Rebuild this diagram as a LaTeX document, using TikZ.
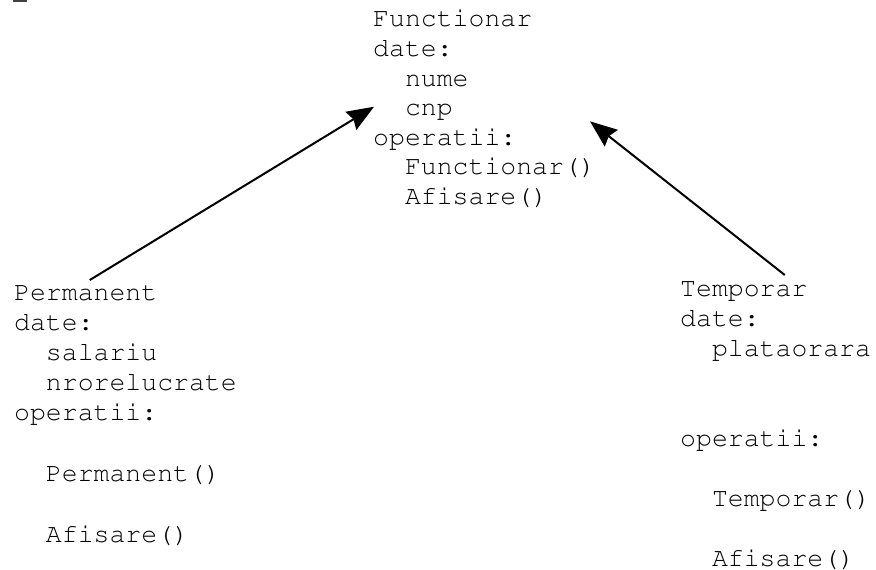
\documentclass[tikz,border=0pt]{standalone}
\usepackage[T1]{fontenc}
\usetikzlibrary{arrows.meta}
% Courier-style typewriter face for the class listings
\newcommand\listfont{\fontencoding{T1}\fontfamily{pcr}\fontsize{26.5}{30}\selectfont}
\newcommand\ind{\phantom{xx}}
\begin{document}
\begin{tikzpicture}[x=1pt,y=-1pt,
  txt/.style={font=\listfont, anchor=base west, inner sep=0pt, text=black},
  inherit/.style={line width=2pt, draw=black,
    -{Stealth[length=27pt,width=21pt,inset=3pt]}}]
\useasboundingbox (0,0) rectangle (876,570);

% small mark in the top-left corner
\draw[line width=1.6pt, black!75] (13,1) -- (27,1);

% base class
\node[txt] (f0) at (373,27)   {Functionar};
\node[txt] (f1) at (373,56.5) {date:};
\node[txt] (f2) at (373,86)   {\ind nume};
\node[txt] (f3) at (373,115.5){\ind cnp};
\node[txt] (f4) at (373,145)  {operatii:};
\node[txt] (f5) at (373,174.5){\ind Functionar()};
\node[txt] (f6) at (373,204)  {\ind Afisare()};

% derived class Permanent
\node[txt] (p0) at (14,300)   {Permanent};
\node[txt] (p1) at (14,330)   {date:};
\node[txt] (p2) at (14,360)   {\ind salariu};
\node[txt] (p3) at (14,390)   {\ind nrorelucrate};
\node[txt] (p4) at (14,420)   {operatii:};
\node[txt] (p5) at (14,481)   {\ind Permanent()};
\node[txt] (p6) at (14,542)   {\ind Afisare()};

% derived class Temporar
\node[txt] (t0) at (680,296)  {Temporar};
\node[txt] (t1) at (680,326)  {date:};
\node[txt] (t2) at (680,356)  {\ind plataorara};
\node[txt] (t3) at (680,446)  {operatii:};
\node[txt] (t4) at (680,506)  {\ind Temporar()};
\node[txt] (t5) at (680,566)  {\ind Afisare()};

% inheritance arrows
\draw[inherit] ([shift={(4,-5)}]p0.north) -- ([shift={(1,3)}]f3.north west);
\draw[inherit] ([shift={(41,-6)}]t0.north) -- ([shift={(-6,-36)}]f5.north east);
\end{tikzpicture}
\end{document}
